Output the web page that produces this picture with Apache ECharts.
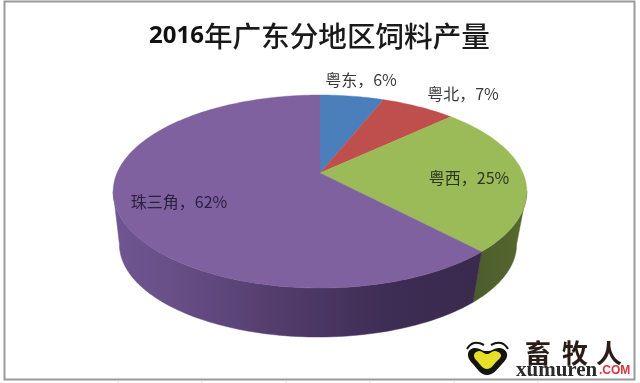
<!DOCTYPE html>
<html>
<head>
<meta charset="utf-8">
<style>html,body{margin:0;padding:0;background:#fff}#c{width:640px;height:383px}</style>
<script src="https://cdn.jsdelivr.net/npm/echarts@6/dist/echarts.min.js"></script>
</head>
<body>
<div id="c"></div>
<script>
const categories = ['粤东', '粤北', '粤西', '珠三角'];
const values = [6, 7, 25, 62];
const faceColors = ['#4b7fbc', '#bf4f4c', '#9bbb59', '#7f61a0'];
const labelAnchors = [[361, 80], [463, 94], [469, 178], [179, 202]];
const labelColors = ['#3a3a3a', '#3a3a3a', '#2c3320', '#2a2040'];
const titleNumber = '2016';
const titleText = '年广东分地区饲料产量';

const total = values.reduce((a, b) => a + b, 0);
const startShares = values.map((_, i) => values.slice(0, i).reduce((a, b) => a + b, 0) / total);

// perspective projection of the disc: circle -> screen
const disc = {cx: 320, apexY: 173, k: 203, a: 59.8, c: -0.1917};
// the wall is seen only between the two silhouette angles of the projected disc
const wallFrom = Math.acos(disc.c), wallTo = 2 * Math.PI - wallFrom;
function project(theta, lower) {
  const u = Math.sin(theta), v = -Math.cos(theta), w = 1 + disc.c * v;
  const x = disc.k * u / w, y = (disc.a * v + disc.apexY) / w - disc.apexY;
  return lower
    ? [disc.cx - 2 + 0.96 * x, disc.apexY + 53.6 + 0.96 * y]
    : [disc.cx + x, disc.apexY + y];
}
function sliceAngles(i) {
  const a0 = startShares[i] * 2 * Math.PI;
  return [a0, a0 + values[i] / total * 2 * Math.PI];
}
function arc(a0, a1, lower) {
  const n = Math.max(8, Math.ceil((a1 - a0) * 40)), pts = [];
  for (let j = 0; j <= n; j++) pts.push(project(a0 + (a1 - a0) * j / n, lower));
  return pts;
}
const G = echarts.graphic.LinearGradient;
const sideFills = [
  '#2f4f74', '#74302e',
  new G(441, 0, 527, 0, [{offset: 0, color: '#46552a'}, {offset: 1, color: '#55692f'}], true),
  new G(113, 0, 477, 0, [
    {offset: 0, color: '#6f5692'}, {offset: 0.2, color: '#654d84'},
    {offset: 0.45, color: '#533d6c'}, {offset: 0.75, color: '#3e2d54'},
    {offset: 1, color: '#3a2a4e'}], true)
];
const seriesData = values.map((v, i) => ({name: categories[i], value: v}));

const chart = echarts.init(document.getElementById('c'), null, {renderer: 'canvas'});
chart.setOption({
  animation: false,
  backgroundColor: '#ffffff',
  title: {
    left: 144, top: 17,
    text: '{n|' + titleNumber + '}{t|' + titleText + '}',
    textStyle: {
      rich: {
        n: {fontFamily: 'Noto Sans', fontWeight: 700, fontSize: 24, color: '#111', verticalAlign: 'middle'},
        t: {fontFamily: 'Noto Sans CJK SC', fontWeight: 500, fontSize: 28.6, color: '#1a1a1a', verticalAlign: 'middle'}
      }
    }
  },
  series: [
    {
      type: 'custom', name: 'side', coordinateSystem: 'none', z: 2, silent: true,
      data: seriesData,
      renderItem(params) {
        const i = params.dataIndex;
        const [s0, s1] = sliceAngles(i);
        const a0 = Math.max(s0, wallFrom), a1 = Math.min(s1, wallTo);
        if (a1 <= a0) return {type: 'group', children: []};
        const fill = sideFills[i];
        const pts = arc(a0, a1, false).concat(arc(a0, a1, true).reverse());
        return {type: 'polygon', shape: {points: pts}, style: {fill: fill, stroke: fill, lineWidth: 0.5}};
      }
    },
    {
      type: 'custom', name: 'face', coordinateSystem: 'none', z: 3, silent: true,
      data: seriesData,
      renderItem(params) {
        const i = params.dataIndex;
        const [s0, s1] = sliceAngles(i);
        const pts = [[disc.cx, disc.apexY]].concat(arc(s0, s1, false));
        return {type: 'polygon', shape: {points: pts}, style: {fill: faceColors[i], stroke: faceColors[i], lineWidth: 0.4}};
      }
    },
    {
      type: 'custom', name: 'label', coordinateSystem: 'none', z: 4, silent: true,
      data: seriesData,
      renderItem(params) {
        const i = params.dataIndex;
        return {
          type: 'text', x: labelAnchors[i][0], y: labelAnchors[i][1],
          style: {
            text: categories[i] + '，' + values[i] + '%',
            fill: labelColors[i], align: 'center', verticalAlign: 'middle',
            font: '16px "Noto Sans CJK SC"'
          }
        };
      }
    }
  ],
  graphic: {elements: [
    {type: 'rect', z: 1, shape: {x: 4.5, y: 1.5, width: 630, height: 378}, style: {fill: 'none', stroke: '#9a9a9a', lineWidth: 2}},
    ...[118, 202, 286, 370, 454, 538].map(x => ({type: 'line', z: 1, shape: {x1: x, y1: 381, x2: x, y2: 383}, style: {stroke: '#dddddd', lineWidth: 1}})),
    {type: 'polygon', z: 5, shape: {smooth: 0.45, points: [[487,375],[473,364],[468,354],[474,348],[487,351],[500,348],[507,354],[502,364]]}, style: {fill: '#141410'}},
    {type: 'polygon', z: 6, shape: {smooth: 0.45, points: [[487,369],[477,361],[474,355],[479,351],[487,354],[495,351],[501,355],[497,361]]}, style: {fill: '#e8df2a'}},
    {type: 'polyline', z: 6, shape: {smooth: 0.5, points: [[467,349],[474,343],[484,345]]}, style: {fill: 'none', stroke: '#141410', lineWidth: 2}},
    {type: 'polyline', z: 6, shape: {smooth: 0.5, points: [[508,349],[501,343],[491,345]]}, style: {fill: 'none', stroke: '#141410', lineWidth: 2}},
    {type: 'text', z: 5, x: 525, y: 340, style: {text: '畜', font: '700 26px "Noto Sans CJK SC"', fill: '#2a1d18', textVerticalAlign: 'top'}},
    {type: 'text', z: 5, x: 562, y: 340, style: {text: '牧', font: '700 26px "Noto Sans CJK SC"', fill: '#2a1d18', textVerticalAlign: 'top'}},
    {type: 'text', z: 5, x: 596, y: 340, style: {text: '人', font: '700 26px "Noto Sans CJK SC"', fill: '#2a1d18', textVerticalAlign: 'top'}},
    {type: 'text', z: 6, x: 516, y: 381, style: {text: 'xumuren', font: '700 21px "Liberation Serif"', fill: '#2a2a2a', verticalAlign: 'bottom'}},
    {type: 'text', z: 6, x: 599, y: 365, style: {text: '.COM', font: '700 12px "Liberation Sans"', fill: '#d8343c', verticalAlign: 'top'}}
  ]}
});
</script>
</body>
</html>
